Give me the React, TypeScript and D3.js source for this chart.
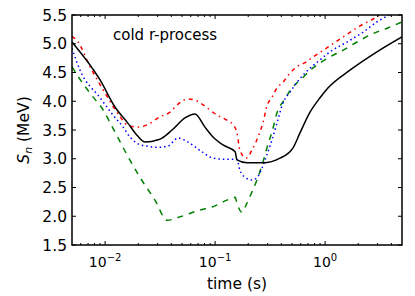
import React from "react";
import * as d3 from "d3";

// values (time in s, Sn in MeV)
const blackT = [0.005, 0.009, 0.0123, 0.0161, 0.0195, 0.0231, 0.0303, 0.0329, 0.0406, 0.0532, 0.0656, 0.0809, 0.0957, 0.118, 0.152, 0.158, 0.195, 0.272, 0.389, 0.511, 0.591, 0.729, 0.899, 1.06, 1.68, 2.96, 5.0];
const blackSn = [5.03, 4.37, 3.9, 3.62, 3.41, 3.29, 3.33, 3.36, 3.5, 3.71, 3.78, 3.55, 3.38, 3.24, 3.12, 2.98, 2.93, 2.93, 3.01, 3.19, 3.45, 3.81, 4.06, 4.23, 4.54, 4.86, 5.12];

const redT = [0.005, 0.00568, 0.0073, 0.00958, 0.0137, 0.0158, 0.0195, 0.024, 0.0316, 0.0389, 0.046, 0.0567, 0.0656, 0.076, 0.104, 0.128, 0.146, 0.158, 0.168, 0.191, 0.216, 0.235, 0.256, 0.272, 0.296, 0.329, 0.365, 0.414, 0.48, 0.555, 0.656, 0.776, 1.06, 1.46, 2.08, 2.96, 3.3];
const redSn = [5.13, 5.03, 4.6, 4.2, 3.73, 3.59, 3.55, 3.59, 3.73, 3.81, 3.95, 4.04, 4.02, 3.95, 3.76, 3.67, 3.59, 3.45, 3.15, 3.01, 3.15, 3.29, 3.47, 3.62, 3.92, 4.07, 4.23, 4.33, 4.49, 4.6, 4.67, 4.77, 4.94, 5.12, 5.31, 5.47, 5.53];

const blueT = [0.005, 0.00592, 0.009, 0.0118, 0.0146, 0.0168, 0.0199, 0.024, 0.0303, 0.0373, 0.046, 0.0567, 0.076, 0.0957, 0.128, 0.158, 0.168, 0.187, 0.216, 0.24, 0.267, 0.296, 0.329, 0.365, 0.414, 0.48, 0.555, 0.656, 0.899, 1.11, 1.58, 2.21, 2.96, 4.0];
const blueSn = [4.92, 4.54, 4.06, 3.76, 3.55, 3.38, 3.26, 3.22, 3.2, 3.22, 3.36, 3.29, 3.12, 3.01, 2.99, 2.99, 2.8, 2.68, 2.63, 2.67, 2.84, 3.07, 3.33, 3.62, 3.97, 4.16, 4.33, 4.49, 4.72, 4.86, 5.03, 5.2, 5.38, 5.52];

const greenT = [0.005, 0.00555, 0.0073, 0.00958, 0.0118, 0.0158, 0.0207, 0.0284, 0.0366, 0.048, 0.073, 0.0938, 0.128, 0.152, 0.158, 0.175, 0.195, 0.216, 0.24, 0.267, 0.296, 0.329, 0.373, 0.414, 0.5, 0.617, 0.776, 1.06, 1.46, 1.95, 2.67, 3.66, 5.0];
const greenSn = [4.6, 4.46, 4.14, 3.85, 3.53, 3.07, 2.68, 2.28, 1.93, 1.99, 2.11, 2.16, 2.28, 2.33, 2.23, 2.07, 2.23, 2.42, 2.63, 2.89, 3.19, 3.47, 3.85, 3.99, 4.23, 4.4, 4.58, 4.75, 4.89, 5.03, 5.17, 5.27, 5.38];

const xMajor = [0.01, 0.1, 1];
const xMajorExp = ["-2", "-1", "0"];
const yTicks = [1.5, 2.0, 2.5, 3.0, 3.5, 4.0, 4.5, 5.0, 5.5];

const W = 415;
const H = 296;
const L = 72, R = 402, T = 15, B = 245;
const FONT = "DejaVu Sans, sans-serif";

const series = [
  { t: greenT, v: greenSn, color: "#008000", dash: "6,6", w: 1.5 },
  { t: blueT, v: blueSn, color: "#0000ff", dash: "1.5,3", w: 1.5 },
  { t: redT, v: redSn, color: "#ff0000", dash: "4,4,1.5,4", w: 1.5 },
  { t: blackT, v: blackSn, color: "#000000", dash: "", w: 1.5 },
];

export default function App() {
  const x = d3.scaleLog().domain([0.005, 5]).range([L, R]);
  const y = d3.scaleLinear().domain([1.5, 5.5]).range([B, T]);

  const minor: number[] = [];
  [0.001, 0.01, 0.1, 1].forEach((d) => {
    for (let k = 2; k <= 9; k++) {
      const v = k * d;
      if (v > 0.005 && v < 5) minor.push(v);
    }
  });

  const line = d3.line<[number, number]>()
    .curve(d3.curveMonotoneX)
    .x((d) => x(d[0]))
    .y((d) => y(d[1]));

  return (
    <svg width={W} height={H} style={{ position: "absolute", left: 0, top: 0, background: "#fff" }} fontFamily={FONT}>
      <defs>
        <clipPath id="plot">
          <rect x={L} y={T} width={R - L} height={B - T} />
        </clipPath>
      </defs>
      <g clipPath="url(#plot)">
        {series.map((s, i) => (
          <path key={i}
            d={line(s.t.map((t, j) => [t, s.v[j]] as [number, number])) || ""}
            fill="none" stroke={s.color} strokeWidth={s.w}
            strokeDasharray={s.dash || undefined} />
        ))}
      </g>
      {/* ticks, inward on all sides */}
      {xMajor.map((v) => (
        <g key={"xm" + v}>
          <line x1={x(v)} x2={x(v)} y1={B} y2={B - 4} stroke="#000" />
          <line x1={x(v)} x2={x(v)} y1={T} y2={T + 4} stroke="#000" />
        </g>
      ))}
      {minor.map((v) => (
        <g key={"xn" + v}>
          <line x1={x(v)} x2={x(v)} y1={B} y2={B - 2} stroke="#000" />
          <line x1={x(v)} x2={x(v)} y1={T} y2={T + 2} stroke="#000" />
        </g>
      ))}
      {yTicks.map((v) => (
        <g key={"y" + v}>
          <line x1={L} x2={L + 4} y1={y(v)} y2={y(v)} stroke="#000" />
          <line x1={R} x2={R - 4} y1={y(v)} y2={y(v)} stroke="#000" />
          <text x={L - 5} y={y(v)} dy="0.36em" textAnchor="end" fontSize={15.5}>{v.toFixed(1)}</text>
        </g>
      ))}
      {xMajor.map((v, i) => (
        <text key={"xl" + v} x={x(v)} y={267} textAnchor="middle" fontSize={14}>
          10<tspan dy={-6} fontSize={10}>{xMajorExp[i] === "0" ? "0" : "\u2212" + xMajorExp[i].slice(1)}</tspan>
        </text>
      ))}
      <rect x={L} y={T} width={R - L} height={B - T} fill="none" stroke="#000" strokeWidth={1.5} />
      <text x={237} y={289} textAnchor="middle" fontSize={15.5}>time (s)</text>
      <text transform={`translate(29,${(T + B) / 2}) rotate(-90)`} textAnchor="middle" fontSize={15.5}>
        <tspan fontStyle="italic">S</tspan>
        <tspan fontStyle="italic" fontSize={11} dy={3}>n</tspan>
        <tspan dy={-3}> (MeV)</tspan>
      </text>
      <text x={113} y={40} fontSize={15}>cold r-process</text>
    </svg>
  );
}
